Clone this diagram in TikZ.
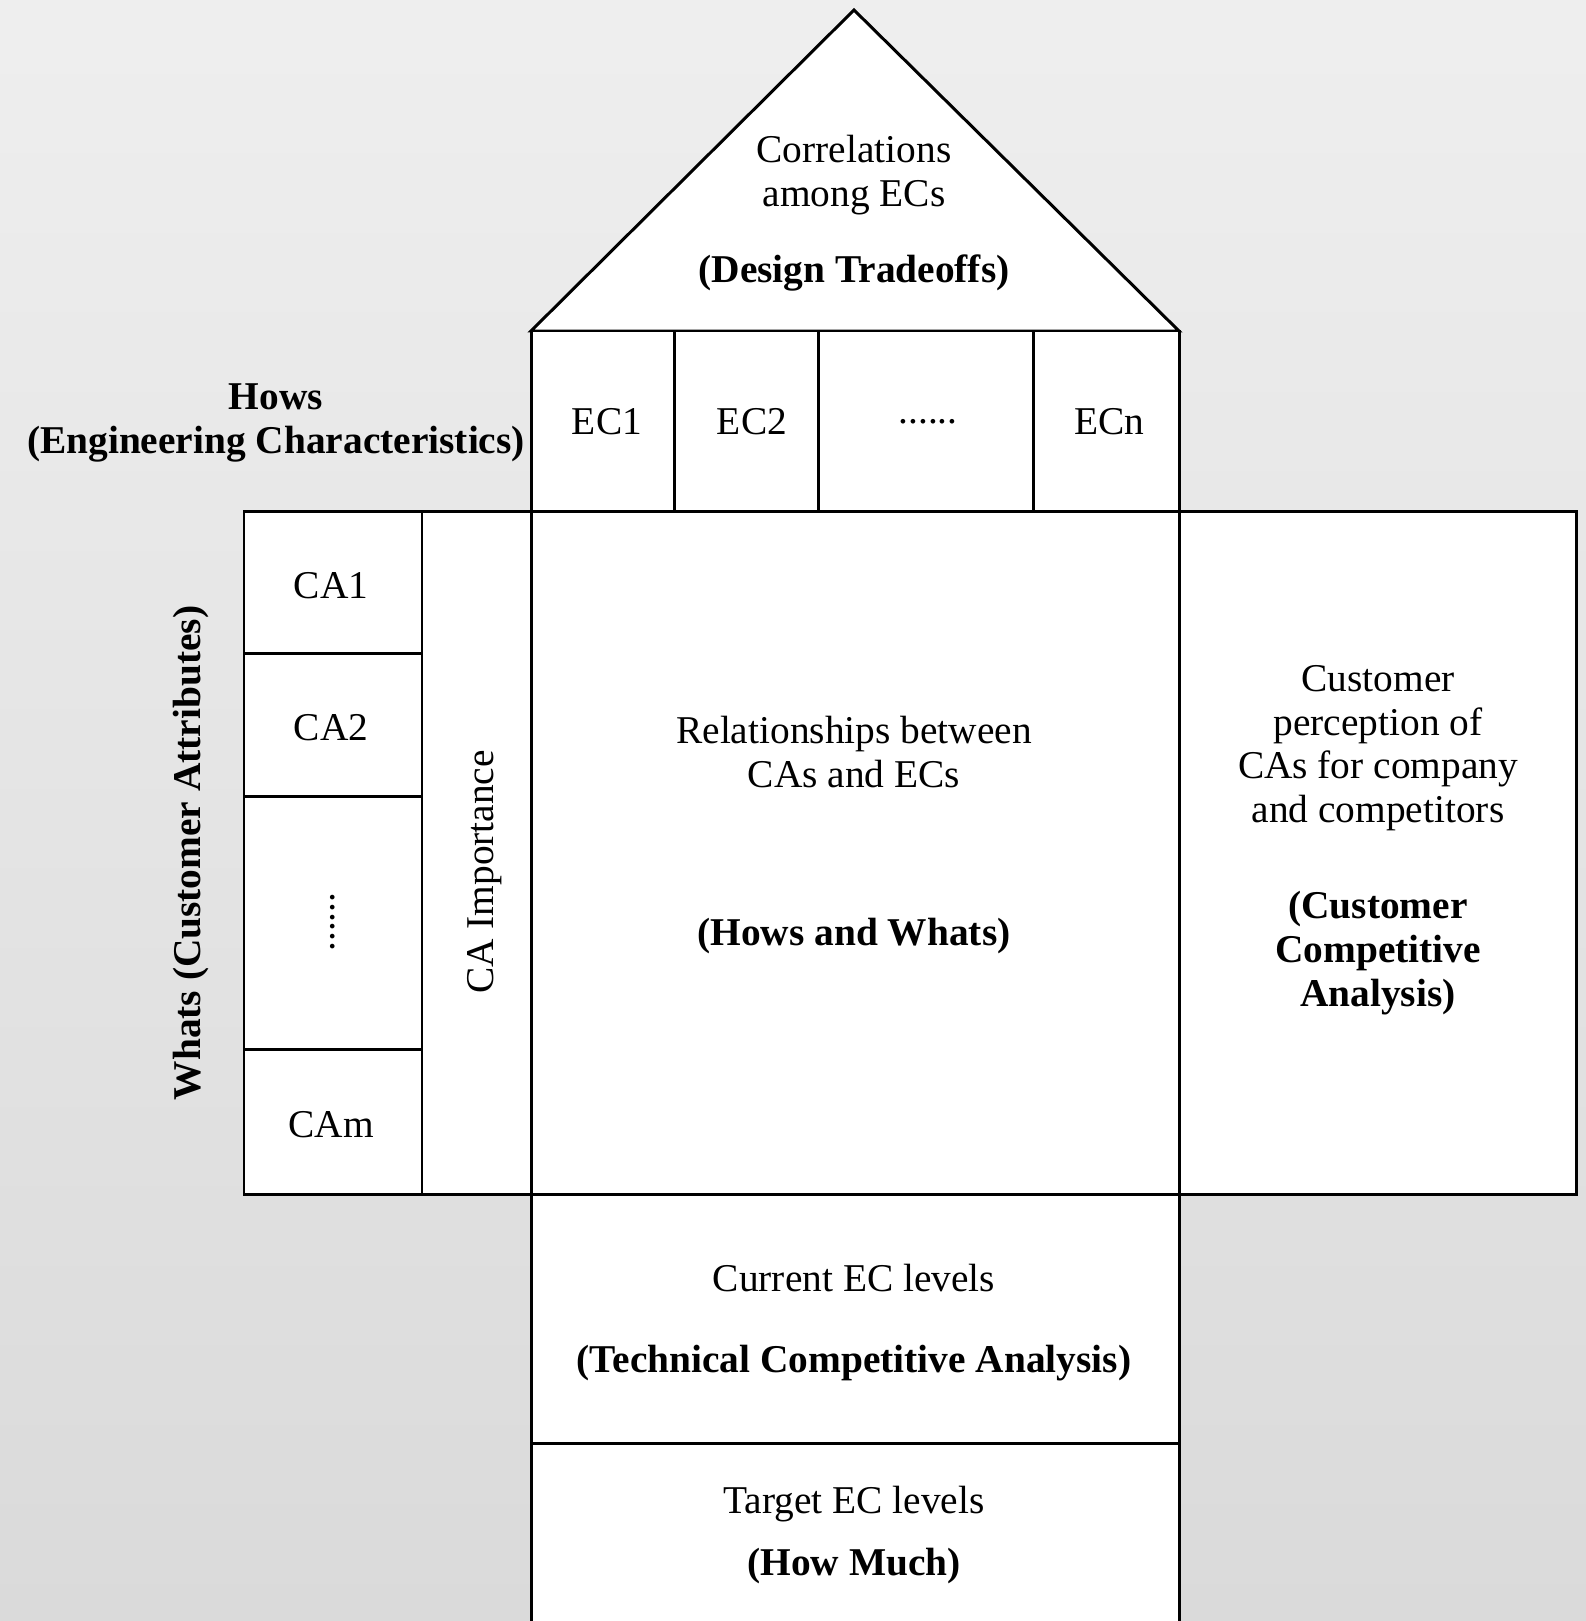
\documentclass[tikz,border=0pt]{standalone}
\usepackage{fontspec}
\setmainfont{Liberation Serif}
\usepackage{xcolor}

\definecolor{bgtop}{gray}{0.975}
\definecolor{bgbot}{gray}{0.815}
\pgfdeclareverticalshading{bgfade}{100bp}{color(0bp)=(bgbot); color(100bp)=(bgtop)}
\newcommand{\dotrow}{......}

\begin{document}
\begin{tikzpicture}[x=0.01cm, y=-0.01cm, line width=0.85pt,
  box/.style={draw, fill=white},
  lbl/.style={font=\fontsize{11.2}{12.4}\selectfont, align=center, inner sep=0pt},
  blbl/.style={lbl, font=\fontsize{11.2}{12.4}\selectfont\bfseries}]

% Background
\shade[shading=bgfade] (0,0) rectangle (1586,1621);
\useasboundingbox (0,0) rectangle (1586,1621);

% Roof
\draw[box] (531,331) -- (854,10) -- (1179,331) -- cycle;
\node[lbl] (corr) at (854,175) {Correlations\\among ECs};
\node[blbl] (tradeoffs) at (854,273) {(Design Tradeoffs)};

% Hows row
\draw[box] (531,331) rectangle (1179,511);
\foreach \x in {674,818,1033}
    \draw (\x,331) -- (\x,511);
\foreach \n/\x/\txt in {ec1/607/EC1, ec2/752/EC2, ecdots/928/\dotrow, ecn/1109/ECn}
    \node[lbl] (\n) at (\x,422) {\txt};
\node[blbl] (hows) at (276,423) {Hows\\(Engineering Characteristics)};

% Whats column
\draw[box] (244,511) rectangle (422,1194);
\foreach \y in {653,796,1049}
    \draw (244,\y) -- (422,\y);
\foreach \n/\y/\txt in {ca1/586/CA1, ca2/728/CA2, cam/1125/CAm}
    \node[lbl] (\n) at (331,\y) {\txt};
\node[lbl, rotate=90] (cadots) at (333,922) {\dotrow};
\node[blbl, rotate=90] (whats) at (191,853) {Whats (Customer Attributes)};

% CA importance
\draw[box] (422,511) rectangle (531,1194);
\node[lbl, rotate=90] (caimp) at (485,872) {CA Importance};

% Relationship matrix
\draw[box] (531,511) rectangle (1179,1194);
\node[lbl] (rel) at (854,752) {Relationships between\\CAs and ECs};
\node[blbl] (howswhats) at (854,936) {(Hows and Whats)};

% Customer competitive analysis
\draw[box] (1179,511) rectangle (1576,1194);
\node[lbl] (custperc) at (1378,748) {Customer\\perception of\\CAs for company\\and competitors};
\node[blbl] (custcomp) at (1378,953) {(Customer\\Competitive\\Analysis)};

% Current EC levels
\draw[box] (531,1194) rectangle (1179,1443);
\node[lbl] (curlev) at (854,1278) {Current EC levels};
\node[blbl] (techcomp) at (854,1363) {(Technical Competitive Analysis)};

% Target EC levels (open at the bottom)
\fill[white] (531,1443) rectangle (1179,1625);
\draw (531,1625) -- (531,1443) -- (1179,1443) -- (1179,1625);
\node[lbl] (targlev) at (854,1504) {Target EC levels};
\node[blbl] (howmuch) at (854,1566) {(How Much)};

\end{tikzpicture}
\end{document}
